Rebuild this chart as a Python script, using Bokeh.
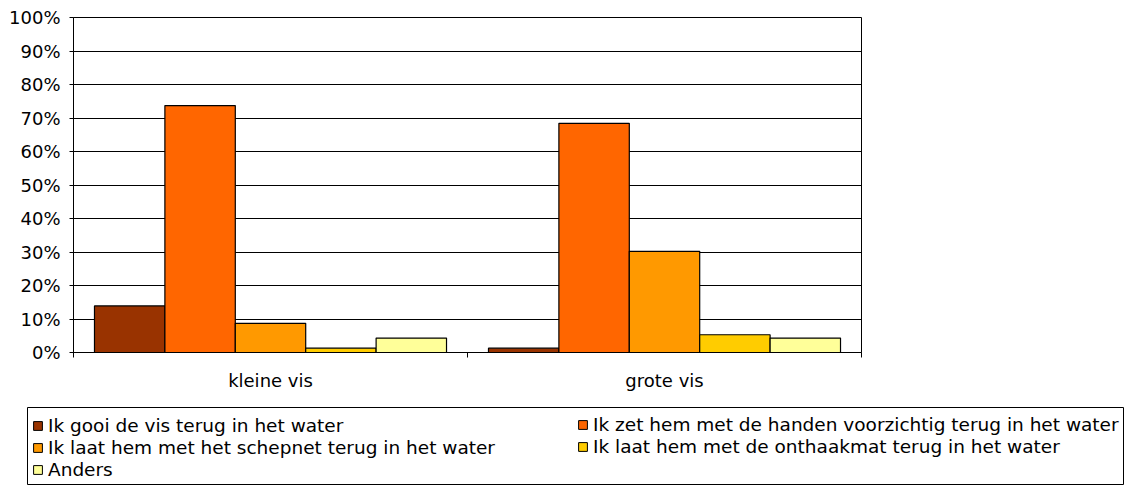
from bokeh.plotting import figure
from bokeh.models import FixedTicker, NumeralTickFormatter, Legend, LegendItem, Range1d
from bokeh.embed import file_html
from bokeh.resources import INLINE

categories = ["kleine vis", "grote vis"]
series = [
    "Ik gooi de vis terug in het water",
    "Ik zet hem met de handen voorzichtig terug in het water",
    "Ik laat hem met het schepnet terug in het water",
    "Ik laat hem met de onthaakmat terug in het water",
    "Anders",
]
colors = ["#993300", "#FF6600", "#FF9900", "#FFCC00", "#FFFF99"]
gooi = [0.139, 0.013]
handen = [0.737, 0.684]
schepnet = [0.087, 0.302]
onthaakmat = [0.013, 0.053]
anders = [0.043, 0.043]
y_ticks = [0, 0.1, 0.2, 0.3, 0.4, 0.5, 0.6, 0.7, 0.8, 0.9, 1.0]

values = [gooi, handen, schepnet, onthaakmat, anders]
FONT = "DejaVu Sans"

p = figure(width=1127, height=400, output_backend="svg", toolbar_location=None,
           x_range=Range1d(0, len(categories)), y_range=Range1d(0, 1),
           min_border_left=73, min_border_right=266, min_border_top=17, min_border_bottom=48)
p.background_fill_color = "white"
p.border_fill_color = "white"
p.outline_line_color = "black"
p.outline_line_width = 1

bw = 0.1787
for i, (name, vals, col) in enumerate(zip(series, values, colors)):
    xs = [k + 0.5 + (i - 2) * bw for k in range(len(categories))]
    p.vbar(x=xs, top=vals, width=bw, fill_color=col, line_color="black", line_width=1.2)

p.xgrid.visible = False
p.ygrid.ticker = FixedTicker(ticks=y_ticks)
p.ygrid.grid_line_color = "black"
p.ygrid.grid_line_width = 1

yax = p.yaxis[0]
yax.ticker = FixedTicker(ticks=y_ticks)
yax.formatter = NumeralTickFormatter(format="0%")
yax.major_tick_out = 4
yax.major_tick_in = 0
yax.minor_tick_out = 0
yax.axis_line_color = "black"
yax.major_label_standoff = 9
yax.major_label_text_font = FONT
yax.major_label_text_font_size = "18px"
yax.major_label_text_color = "black"

xax = p.xaxis[0]
xax.ticker = FixedTicker(ticks=[k + 0.5 for k in range(len(categories))],
                         minor_ticks=list(range(len(categories) + 1)))
xax.major_label_overrides = {k + 0.5: c for k, c in enumerate(categories)}
xax.major_tick_out = 0
xax.major_tick_in = 0
xax.minor_tick_out = 5
xax.minor_tick_in = 0
xax.minor_tick_line_color = "black"
xax.axis_line_color = "black"
xax.major_label_standoff = 12
xax.major_label_text_font = FONT
xax.major_label_text_font_size = "18px"
xax.major_label_text_color = "black"

# legend panel: a separate bare figure; its frame outline is the legend box
lf = figure(width=1127, height=85, output_backend="svg", toolbar_location=None,
            x_range=Range1d(0, len(categories)), y_range=Range1d(5, 6),
            x_axis_location=None, y_axis_location=None,
            min_border_left=27, min_border_right=4, min_border_top=7, min_border_bottom=0)
lf.outline_line_color = "black"
lf.outline_line_width = 1
lf.grid.visible = False
lf.background_fill_color = "white"
lf.border_fill_color = "white"

items = []
for i, (name, vals, col) in enumerate(zip(series, values, colors)):
    xs = [k + 0.5 + (i - 2) * bw for k in range(len(categories))]
    r = lf.vbar(x=xs, top=vals, width=bw, fill_color=col, line_color="black", line_width=1)
    items.append(LegendItem(label=name, renderers=[r]))

common = dict(border_line_color=None, background_fill_alpha=0,
              label_text_font=FONT, label_text_font_size="18.5px", label_text_color="black",
              glyph_width=11, glyph_height=11, label_standoff=5, label_height=22,
              spacing=0, padding=6, margin=0)
leg_a = Legend(items=[items[0], items[2], items[4]], location=(5, 5), **common)
leg_b = Legend(items=[items[1], items[3]], location=(550, 28), **common)
lf.add_layout(leg_a, "center")
lf.add_layout(leg_b, "center")

open("out.html", "w").write(file_html([p, lf], INLINE))
